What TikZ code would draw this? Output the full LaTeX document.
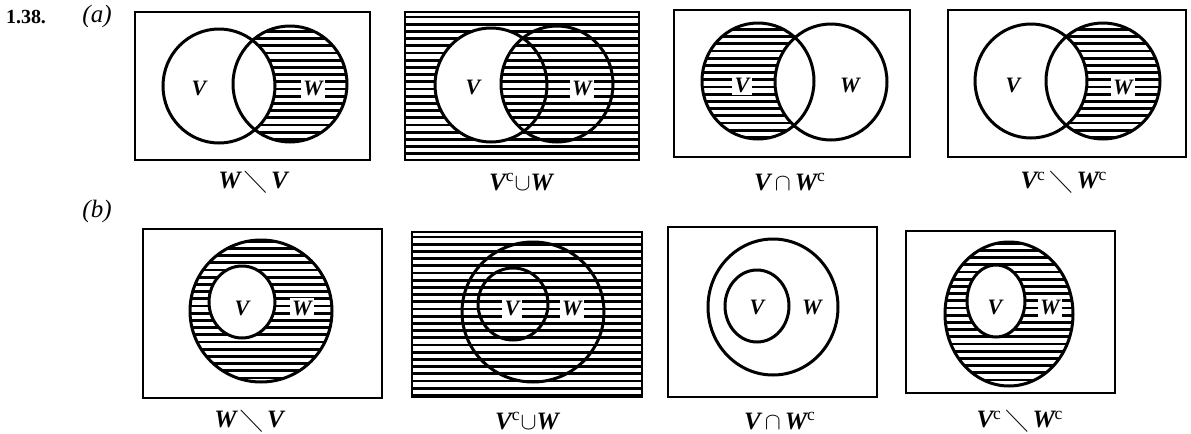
\documentclass[tikz,border=0pt]{standalone}
\usepackage{amsmath}
\usepackage{amssymb}
\usepackage{fontspec}
\setmainfont{Liberation Serif}
\newcommand\hatchrect[4]{%
  \begin{scope}
    \clip (#1,#2) rectangle (#3,#4);
    \foreach \i in {0,...,25} {\draw[hline] (#1,{#2+5+\i*7.2}) -- (#3,{#2+5+\i*7.2});}
  \end{scope}}
\newcommand\bV{\textbf{\textit{V}}}
\newcommand\bW{\textbf{\textit{W}}}
\newcommand\cc{\textsuperscript{\normalfont c}}
\newcommand\smin{\,$\boldsymbol{\diagdown}$\,}
\begin{document}
\begin{tikzpicture}[x=0.5pt,y=-0.5pt,
  frame/.style={line width=1pt},
  ring/.style={line width=1.5pt},
  hline/.style={line width=1.45pt},
  lab/.style={font=\fontsize{11}{11}\selectfont\bfseries\itshape, fill=white, inner sep=1.2pt},
  caption/.style={font=\fontsize{12.5}{12.5}\selectfont\bfseries\itshape},
  head/.style={font=\fontsize{10}{10}\selectfont\bfseries},
  part/.style={font=\fontsize{12.5}{12.5}\selectfont\itshape}]
\useasboundingbox (0,0) rectangle (1191,434);

\node[head] (num) at (26,17) {1.38.};
\node[part] (pa) at (97,16) {(a)};
\node[part] (pb) at (97,211) {(b)};

% ---------- (a)1 : W \ V
\begin{scope}[even odd rule]
  \clip (290,84) ellipse [x radius=57, y radius=58];
  \clip (135,12) rectangle (370,160) (219,86) ellipse [x radius=56, y radius=57];
  \hatchrect{135}{12}{370}{160}
\end{scope}
\node[lab] (a1v) at (199,88) {V};
\node[lab] (a1w) at (313,88) {W};
\draw[ring] (219,86) ellipse [x radius=56, y radius=57];
\draw[ring] (290,84) ellipse [x radius=57, y radius=58];
\draw[frame] (135,12) rectangle (370,160);
\node[caption] (a1c) at (253,182) {\bW\smin\bV};

% ---------- (a)2 : V^c u W
\hatchrect{405}{12}{639}{160}
\begin{scope}[even odd rule]
  \clip (405,12) rectangle (639,160) (557,84) ellipse [x radius=56, y radius=58];
  \fill[white] (491,85) ellipse [x radius=56, y radius=57];
\end{scope}
\node[lab] (a2v) at (473,87) {V};
\node[lab] (a2w) at (582,88) {W};
\draw[ring] (491,85) ellipse [x radius=56, y radius=57];
\draw[ring] (557,84) ellipse [x radius=56, y radius=58];
\draw[frame] (405,12) rectangle (639,160);
\node[caption] (a2c) at (521,182) {\bV\cc$\cup$\bW};

% ---------- (a)3 : V n W^c
\begin{scope}[even odd rule]
  \clip (758,81) ellipse [x radius=56, y radius=58];
  \clip (674,10) rectangle (910,157) (831,82) ellipse [x radius=56, y radius=58];
  \hatchrect{674}{10}{910}{157}
\end{scope}
\node[lab] (a3v) at (742,85) {V};
\node[lab] (a3w) at (850,85) {W};
\draw[ring] (758,81) ellipse [x radius=56, y radius=58];
\draw[ring] (831,82) ellipse [x radius=56, y radius=58];
\draw[frame] (674,10) rectangle (910,157);
\node[caption] (a3c) at (790,182) {\bV$\,\cap\,$\bW\cc};

% ---------- (a)4 : V^c \ W^c
\begin{scope}[even odd rule]
  \clip (1103,81) ellipse [x radius=57, y radius=58];
  \clip (948,10) rectangle (1186,157) (1031,81) ellipse [x radius=56, y radius=57];
  \hatchrect{948}{10}{1186}{157}
\end{scope}
\node[lab] (a4v) at (1013,85) {V};
\node[lab] (a4w) at (1123,87) {W};
\draw[ring] (1031,81) ellipse [x radius=56, y radius=57];
\draw[ring] (1103,81) ellipse [x radius=57, y radius=58];
\draw[frame] (948,10) rectangle (1186,157);
\node[caption] (a4c) at (1064,182) {\bV\cc\smin\bW\cc};

% ---------- (b)1 : W \ V
\begin{scope}[even odd rule]
  \clip (261,311) ellipse [x radius=71, y radius=71];
  \clip (143,229) rectangle (382,398) (242,302) ellipse [x radius=33, y radius=36];
  \hatchrect{143}{229}{382}{398}
\end{scope}
\node[lab] (b1v) at (242,308) {V};
\node[lab] (b1w) at (302,308) {W};
\draw[ring] (261,311) ellipse [x radius=71, y radius=71];
\draw[ring] (242,302) ellipse [x radius=33, y radius=36];
\draw[frame] (143,229) rectangle (382,398);
\node[caption] (b1c) at (249,421) {\bW\smin\bV};

% ---------- (b)2 : V^c u W
\hatchrect{412}{232}{642}{397}
\node[lab] (b2v) at (512,308) {V};
\node[lab] (b2w) at (572,308) {W};
\draw[ring] (533,312) ellipse [x radius=71, y radius=70];
\draw[ring] (513,304) ellipse [x radius=35, y radius=36];
\draw[frame] (412,232) rectangle (642,397);
\node[caption] (b2c) at (527,421) {\bV\cc$\cup$\bW};

% ---------- (b)3 : V n W^c
\node[lab] (b3v) at (757,307) {V};
\node[lab] (b3w) at (812,307) {W};
\draw[ring] (773,307) ellipse [x radius=65, y radius=68];
\draw[ring] (757,306) ellipse [x radius=32, y radius=36];
\draw[frame] (668,227) rectangle (877,397);
\node[caption] (b3c) at (780,421) {\bV$\,\cap\,$\bW\cc};

% ---------- (b)4 : V^c \ W^c
\begin{scope}[even odd rule]
  \clip (1009,314) ellipse [x radius=64, y radius=72];
  \clip (906,231) rectangle (1115,393) (996,301) ellipse [x radius=29, y radius=36];
  \hatchrect{906}{231}{1115}{393}
\end{scope}
\node[lab] (b4v) at (995,307) {V};
\node[lab] (b4w) at (1050,307) {W};
\draw[ring] (1009,314) ellipse [x radius=64, y radius=72];
\draw[ring] (996,301) ellipse [x radius=29, y radius=36];
\draw[frame] (906,231) rectangle (1115,393);
\node[caption] (b4c) at (1020,421) {\bV\cc\smin\bW\cc};
\end{tikzpicture}
\end{document}
